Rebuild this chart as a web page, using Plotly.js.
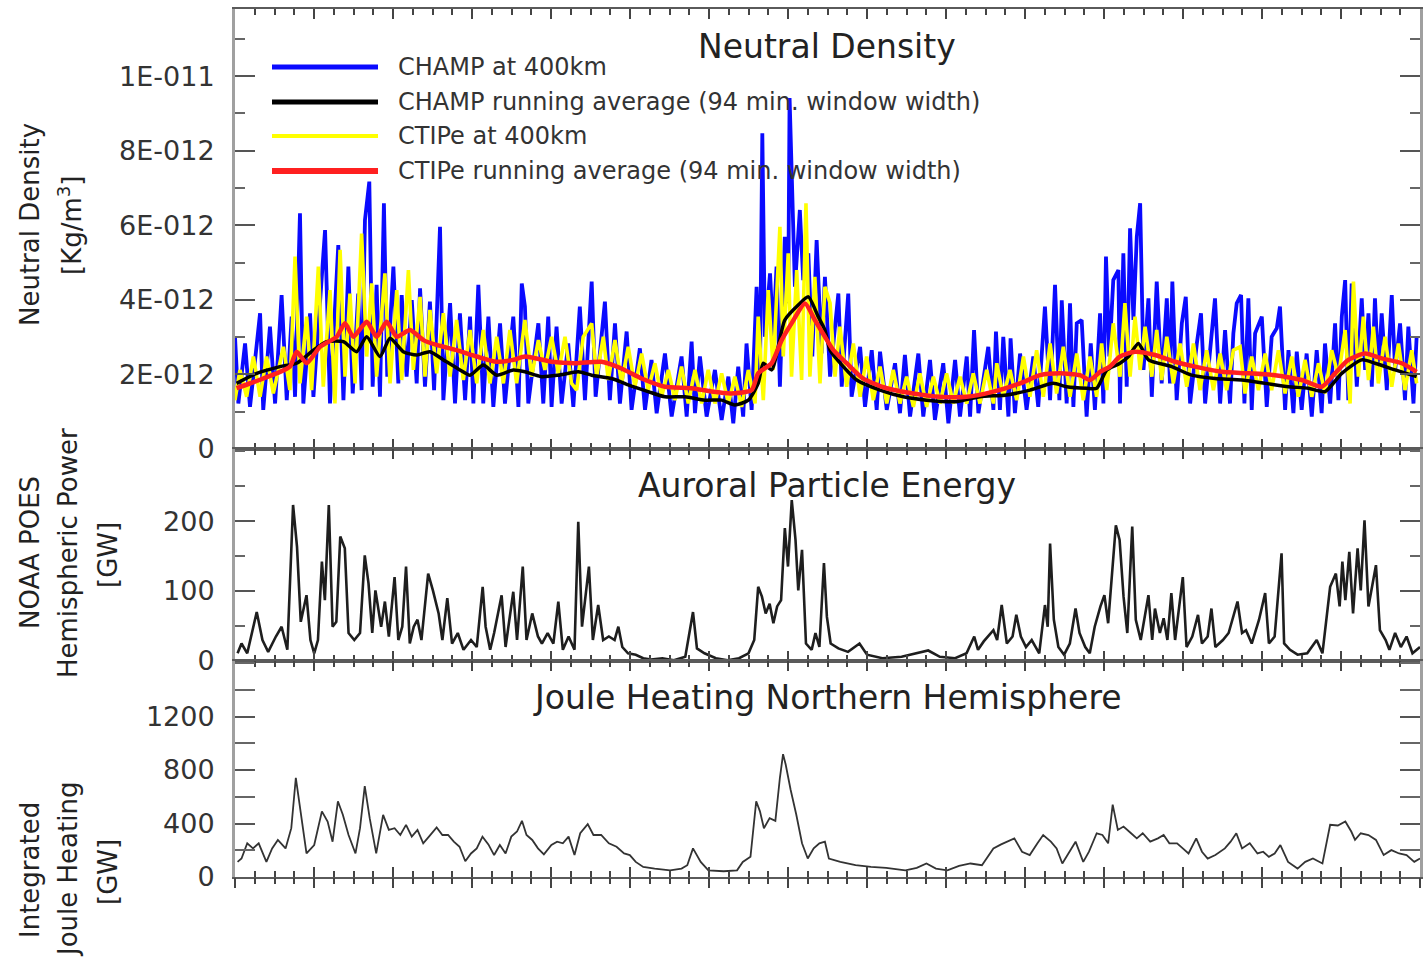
<!DOCTYPE html>
<html>
<head>
<meta charset="utf-8">
<script src="https://cdn.plot.ly/plotly-3.0.1.min.js"></script>
<style>html,body{margin:0;padding:0;background:#fff;}#chart{width:1425px;height:965px;}</style>
</head>
<body>
<div id="chart"></div>
<script>
// ---------- DATA (x = days since start of interval) ----------
const champX = [0.00,0.17,0.51,0.76,1.27,1.43,1.77,2.03,2.36,2.62,2.87,3.04,3.29,3.46,3.80,3.97,4.56,4.81,5.23,5.49,5.74,5.96,6.24,6.41,6.58,6.80,6.97,7.17,7.34,7.54,7.71,8.02,8.27,8.44,8.69,8.95,9.20,9.37,9.62,9.87,10.08,10.38,10.55,10.89,11.14,11.39,11.65,11.90,12.07,12.32,12.57,12.83,13.08,13.42,13.67,14.09,14.35,14.52,
14.68,14.85,15.36,15.61,15.86,16.03,16.28,16.54,16.87,17.13,17.46,17.72,18.06,18.26,18.73,18.98,19.24,19.49,19.83,20.08,20.50,20.76,21.09,21.35,21.77,22.11,22.61,22.87,23.12,23.29,23.54,23.88,24.30,24.64,24.98,25.23,25.48,25.73,25.90,26.16,26.41,26.58,26.70,26.83,27.09,27.25,27.42,27.59,27.84,28.01,28.08,28.35,28.60,28.77,29.03,29.23,29.45,29.70,29.87,
29.96,30.13,30.55,30.72,31.05,31.22,31.65,31.90,32.24,32.49,32.66,33.00,33.42,33.67,33.92,34.18,34.60,34.85,35.19,35.44,35.86,36.12,36.46,36.71,37.05,37.22,37.42,37.64,38.14,38.40,38.53,38.73,38.90,39.16,39.27,39.49,39.75,40.08,40.42,40.67,41.01,41.27,41.52,41.74,41.86,42.11,42.28,42.45,42.62,42.87,43.12,43.33,43.54,43.80,43.97,44.10,44.27,44.47,44.73,
44.81,44.98,45.15,45.32,45.49,45.66,45.83,46.00,46.25,46.42,46.67,46.92,47.18,47.34,47.46,47.68,47.94,48.14,48.36,48.70,48.91,49.12,49.45,49.62,49.88,50.13,50.38,50.55,50.72,50.94,51.11,51.31,51.48,51.65,51.99,52.24,52.49,52.75,52.91,53.17,53.34,53.59,53.76,54.01,54.26,54.52,54.77,55.02,55.19,55.45,55.70,55.87,56.04,56.21,56.37,56.54,56.80,57.05,57.22,57.39,57.56,57.72,57.89,58.06,58.32,58.57,58.74,58.99,59.24,59.41,59.67,59.83];
const champDensity = [3.01e-12,1.22e-12,2.83e-12,1.13e-12,3.64e-12,1.05e-12,3.28e-12,1.22e-12,4.13e-12,1.31e-12,3.55e-12,1.40e-12,6.32e-12,1.22e-12,3.64e-12,1.40e-12,5.87e-12,1.22e-12,5.47e-12,1.31e-12,4.89e-12,1.49e-12,4.17e-12,1.58e-12,6.14e-12,7.17e-12,1.67e-12,4.40e-12,1.40e-12,6.59e-12,1.94e-12,4.89e-12,1.76e-12,4.13e-12,1.94e-12,3.99e-12,1.76e-12,4.31e-12,1.67e-12,3.95e-12,1.58e-12,5.96e-12,1.31e-12,3.91e-12,1.22e-12,3.64e-12,1.31e-12,3.55e-12,1.22e-12,4.40e-12,1.22e-12,3.55e-12,1.13e-12,3.37e-12,1.22e-12,3.55e-12,1.13e-12,4.44e-12,
3.82e-12,1.22e-12,3.37e-12,1.22e-12,3.55e-12,1.13e-12,3.28e-12,1.22e-12,2.83e-12,1.13e-12,3.82e-12,1.31e-12,4.49e-12,1.40e-12,3.95e-12,1.31e-12,3.37e-12,1.22e-12,3.15e-12,1.05e-12,2.70e-12,1.05e-12,2.39e-12,0.96e-12,2.56e-12,0.87e-12,2.48e-12,0.87e-12,2.88e-12,0.96e-12,2.48e-12,0.87e-12,2.12e-12,0.78e-12,1.94e-12,0.69e-12,2.21e-12,0.87e-12,2.83e-12,1.05e-12,4.35e-12,1.94e-12,8.47e-12,3.01e-12,4.71e-12,3.01e-12,4.89e-12,1.67e-12,5.69e-12,3.91e-12,9.41e-12,4.35e-12,6.41e-12,4.53e-12,5.25e-12,2.48e-12,5.60e-12,2.56e-12,4.62e-12,
3.73e-12,1.94e-12,4.17e-12,1.67e-12,4.17e-12,1.40e-12,2.74e-12,1.13e-12,2.65e-12,1.05e-12,2.61e-12,1.05e-12,2.30e-12,0.96e-12,2.52e-12,0.87e-12,2.56e-12,0.87e-12,2.39e-12,0.78e-12,2.30e-12,0.69e-12,2.39e-12,0.87e-12,2.48e-12,0.87e-12,3.19e-12,0.96e-12,2.74e-12,1.05e-12,3.15e-12,1.05e-12,3.01e-12,0.87e-12,2.97e-12,0.96e-12,2.56e-12,1.05e-12,2.48e-12,1.13e-12,3.82e-12,1.31e-12,4.40e-12,1.31e-12,3.99e-12,1.22e-12,3.91e-12,1.13e-12,3.37e-12,3.46e-12,0.87e-12,2.83e-12,1.05e-12,3.64e-12,1.22e-12,5.16e-12,2.48e-12,4.53e-12,4.80e-12,
1.22e-12,5.25e-12,1.67e-12,5.92e-12,3.46e-12,5.69e-12,6.59e-12,2.12e-12,4.04e-12,1.40e-12,4.49e-12,1.76e-12,4.04e-12,1.76e-12,4.49e-12,1.31e-12,3.37e-12,4.08e-12,1.22e-12,2.83e-12,3.64e-12,1.22e-12,3.24e-12,4.04e-12,1.22e-12,3.19e-12,1.22e-12,3.10e-12,3.91e-12,4.13e-12,1.22e-12,4.04e-12,1.05e-12,3.10e-12,3.55e-12,1.13e-12,3.01e-12,3.24e-12,3.82e-12,1.05e-12,2.65e-12,0.96e-12,2.61e-12,1.05e-12,2.56e-12,0.87e-12,2.65e-12,0.96e-12,2.83e-12,1.22e-12,3.37e-12,1.31e-12,3.55e-12,4.53e-12,1.31e-12,4.44e-12,1.67e-12,4.04e-12,2.12e-12,3.64e-12,1.67e-12,4.04e-12,2.03e-12,3.64e-12,1.58e-12,4.13e-12,2.12e-12,3.37e-12,1.31e-12,3.28e-12,1.22e-12,3.01e-12];

const champAvgX = [0.08,1.10,2.28,3.12,3.97,4.64,5.49,6.16,6.67,7.34,7.85,8.52,9.20,9.87,10.55,11.39,11.90,12.57,13.25,14.09,
14.68,15.52,16.37,17.38,18.06,19.07,19.91,20.92,21.77,22.78,23.79,24.64,25.31,25.99,26.49,26.75,27.17,27.84,28.52,29.03,29.53,29.87,
30.13,30.80,31.48,32.66,33.84,35.02,36.54,37.72,39.07,40.25,41.43,42.11,43.12,43.63,44.14,44.81,
45.24,45.74,46.25,47.43,48.44,49.62,50.97,52.16,53.34,54.35,55.19,56.04,57.05,57.72,58.74,59.83];
const champAvgDensity = [1.76e-12,2.03e-12,2.21e-12,2.30e-12,2.65e-12,2.88e-12,2.88e-12,2.61e-12,3.01e-12,2.48e-12,2.97e-12,2.61e-12,2.52e-12,2.61e-12,2.39e-12,2.12e-12,1.98e-12,2.25e-12,1.98e-12,2.12e-12,
2.07e-12,1.94e-12,1.98e-12,2.07e-12,1.98e-12,1.89e-12,1.72e-12,1.54e-12,1.40e-12,1.40e-12,1.31e-12,1.31e-12,1.18e-12,1.31e-12,1.76e-12,2.30e-12,2.12e-12,3.46e-12,3.86e-12,4.08e-12,3.55e-12,3.19e-12,
2.65e-12,2.21e-12,1.85e-12,1.58e-12,1.40e-12,1.31e-12,1.27e-12,1.40e-12,1.45e-12,1.58e-12,1.76e-12,1.67e-12,1.63e-12,1.63e-12,2.12e-12,2.30e-12,
2.48e-12,2.83e-12,2.39e-12,2.21e-12,1.98e-12,1.89e-12,1.85e-12,1.76e-12,1.67e-12,1.63e-12,1.54e-12,2.03e-12,2.39e-12,2.30e-12,2.12e-12,1.94e-12];

const ctipeX = [0.00,0.25,0.59,0.93,1.27,1.60,1.94,2.45,2.78,3.04,3.29,3.63,3.88,4.22,4.47,4.81,5.06,5.32,5.57,5.82,6.08,6.41,6.67,6.92,7.17,7.59,7.85,8.19,8.44,8.78,9.03,9.37,9.62,9.87,10.21,10.55,10.89,11.22,11.56,11.90,12.24,12.57,12.91,13.25,13.59,13.92,14.26,14.68,
15.02,15.36,15.69,16.03,16.37,16.71,17.04,17.30,17.63,18.06,18.31,18.65,18.90,19.24,19.57,19.91,20.25,20.59,20.92,21.26,21.60,21.94,22.28,22.61,22.95,23.29,23.63,23.96,24.30,24.64,24.98,25.31,25.65,25.99,26.33,26.49,26.75,27.00,27.25,27.59,27.76,28.01,28.18,28.44,28.69,28.91,29.11,29.36,29.62,29.87,
30.13,30.38,30.63,30.97,31.31,31.65,31.98,32.32,32.66,33.00,33.33,33.67,34.01,34.35,34.68,35.02,35.36,35.70,36.03,36.37,36.71,37.05,37.38,37.72,38.06,38.40,38.57,38.90,39.24,39.58,39.92,40.25,40.59,40.93,41.27,41.60,41.94,42.28,42.62,42.95,43.29,43.63,43.88,44.14,44.47,44.81,
45.06,45.32,45.57,45.83,46.08,46.42,46.67,46.92,47.18,47.51,47.85,48.19,48.53,48.86,49.20,49.54,49.88,50.21,50.55,50.89,51.14,51.48,51.82,52.16,52.49,52.83,53.17,53.51,53.84,54.18,54.52,54.86,55.19,55.53,55.87,56.21,56.46,56.63,56.88,57.13,57.39,57.64,57.89,58.23,58.57,58.91,59.24,59.58,59.83];
const ctipeDensity = [1.31e-12,2.12e-12,1.40e-12,2.48e-12,1.40e-12,2.48e-12,1.49e-12,2.74e-12,1.58e-12,5.16e-12,1.76e-12,3.55e-12,1.58e-12,4.89e-12,1.67e-12,4.26e-12,1.22e-12,5.34e-12,1.94e-12,4.17e-12,1.76e-12,5.78e-12,2.48e-12,4.44e-12,1.94e-12,4.71e-12,1.76e-12,4.26e-12,1.85e-12,4.80e-12,2.12e-12,4.08e-12,1.94e-12,3.73e-12,2.03e-12,3.64e-12,1.94e-12,3.46e-12,1.85e-12,3.19e-12,1.76e-12,3.19e-12,1.76e-12,3.01e-12,1.76e-12,3.19e-12,1.76e-12,3.46e-12,
1.94e-12,2.92e-12,2.12e-12,3.01e-12,2.03e-12,3.01e-12,1.76e-12,1.58e-12,3.01e-12,3.37e-12,1.94e-12,3.01e-12,1.85e-12,2.92e-12,1.76e-12,2.74e-12,1.67e-12,2.56e-12,1.58e-12,2.30e-12,1.40e-12,2.12e-12,1.31e-12,2.21e-12,1.22e-12,2.12e-12,1.22e-12,2.12e-12,1.22e-12,2.03e-12,1.22e-12,1.94e-12,1.13e-12,2.12e-12,1.22e-12,3.55e-12,1.31e-12,4.26e-12,2.12e-12,5.96e-12,2.48e-12,5.25e-12,1.94e-12,4.80e-12,1.85e-12,6.59e-12,1.94e-12,4.62e-12,1.76e-12,4.35e-12,
3.91e-12,1.94e-12,3.28e-12,1.67e-12,2.83e-12,1.40e-12,2.48e-12,1.31e-12,2.21e-12,1.22e-12,2.12e-12,1.22e-12,1.94e-12,1.13e-12,2.03e-12,1.13e-12,1.94e-12,1.22e-12,2.03e-12,1.22e-12,1.94e-12,1.22e-12,2.03e-12,1.22e-12,2.12e-12,1.22e-12,2.30e-12,1.40e-12,2.12e-12,1.31e-12,2.48e-12,1.40e-12,2.65e-12,1.40e-12,2.83e-12,1.49e-12,2.74e-12,1.40e-12,2.56e-12,1.31e-12,2.48e-12,1.40e-12,2.83e-12,1.58e-12,3.37e-12,1.94e-12,
3.91e-12,1.94e-12,3.55e-12,2.12e-12,3.28e-12,1.94e-12,3.19e-12,1.85e-12,3.01e-12,1.76e-12,2.83e-12,1.67e-12,2.83e-12,1.58e-12,2.65e-12,1.58e-12,2.56e-12,1.58e-12,2.65e-12,2.74e-12,1.49e-12,2.48e-12,1.58e-12,2.56e-12,1.58e-12,2.65e-12,1.49e-12,2.48e-12,1.40e-12,2.39e-12,1.40e-12,2.30e-12,1.49e-12,2.65e-12,1.94e-12,3.19e-12,1.22e-12,4.49e-12,1.94e-12,3.55e-12,1.85e-12,3.28e-12,1.76e-12,3.01e-12,1.67e-12,2.83e-12,1.58e-12,2.65e-12,1.76e-12];

const ctipeAvgX = [0.08,1.43,2.78,3.12,3.63,4.30,5.15,5.57,5.99,6.67,7.17,7.68,8.19,8.86,9.54,10.21,11.22,12.24,13.25,14.09,
14.68,16.03,17.21,18.56,19.57,20.59,21.77,23.12,24.13,25.14,26.16,26.49,27.17,27.68,28.18,28.86,29.36,29.87,
30.30,30.97,31.81,33.00,34.35,35.70,37.05,38.40,39.75,40.76,41.77,42.78,43.29,43.80,44.30,44.81,
45.57,46.59,47.60,48.61,49.96,51.31,52.66,54.01,55.02,55.70,56.37,57.22,58.06,59.08,59.83];
const ctipeAvgDensity = [1.63e-12,1.89e-12,2.21e-12,2.61e-12,2.30e-12,2.74e-12,3.01e-12,3.37e-12,3.01e-12,3.41e-12,3.01e-12,3.41e-12,3.01e-12,3.19e-12,2.92e-12,2.79e-12,2.65e-12,2.48e-12,2.34e-12,2.39e-12,
2.48e-12,2.34e-12,2.30e-12,2.34e-12,2.16e-12,1.89e-12,1.67e-12,1.63e-12,1.54e-12,1.49e-12,1.58e-12,2.03e-12,2.30e-12,2.92e-12,3.37e-12,3.90e-12,3.46e-12,3.01e-12,
2.65e-12,2.30e-12,1.89e-12,1.63e-12,1.49e-12,1.40e-12,1.40e-12,1.54e-12,1.76e-12,1.98e-12,2.03e-12,1.98e-12,1.85e-12,2.07e-12,2.21e-12,2.48e-12,
2.61e-12,2.52e-12,2.34e-12,2.21e-12,2.07e-12,2.03e-12,1.98e-12,1.85e-12,1.67e-12,2.03e-12,2.39e-12,2.56e-12,2.43e-12,2.30e-12,2.07e-12];

const hpX = [0.13,0.33,0.62,1.10,1.39,1.68,2.07,2.36,2.65,2.94,3.14,3.33,3.62,3.82,4.01,4.20,4.40,4.55,4.75,4.94,5.13,5.33,5.56,5.75,6.04,6.33,6.57,6.76,6.95,7.11,7.40,7.59,7.79,8.08,8.27,8.47,8.66,8.85,9.05,9.24,9.44,9.78,10.02,10.31,10.50,10.75,10.99,11.28,11.57,11.95,12.24,12.54,12.69,12.92,13.12,13.50,13.70,14.09,14.28,14.57,14.76,15.05,15.34,15.54,15.83,16.12,16.37,16.60,16.89,17.19,17.38,17.57,17.92,18.12,18.39,18.64,18.93,19.22,19.41,19.61,19.90,20.29,20.67,21.06,21.64,22.22,22.80,23.19,23.39,23.77,24.35,24.94,25.52,26.00,26.29,26.49,26.68,26.87,27.07,27.26,27.45,27.65,27.84,28.00,28.19,28.38,28.52,28.71,28.91,29.20,29.39,29.59,29.82,
29.97,30.16,30.55,31.04,31.62,32.00,32.78,33.75,34.43,35.10,35.69,36.46,37.04,37.43,37.62,37.91,38.40,38.59,38.82,39.08,39.37,39.56,39.79,40.05,40.34,40.72,41.01,41.15,41.27,41.46,41.69,41.98,42.27,42.56,42.76,43.05,43.28,43.53,43.82,44.02,44.21,44.60,44.79,44.99,45.18,45.43,45.61,45.86,46.25,46.44,46.58,46.83,47.02,47.21,47.41,47.60,47.99,48.18,48.47,48.76,48.96,49.25,49.44,49.64,50.02,50.31,50.76,50.99,51.19,51.48,51.85,52.16,52.35,52.64,52.99,53.12,53.42,53.80,54.29,54.77,55.06,55.45,55.74,55.93,56.07,56.22,56.42,56.61,56.84,57.00,57.19,57.39,57.77,57.97,58.26,58.45,58.74,59.03,59.32,59.62,60.00];
const hpPower = [11,25,11,70,30,13,35,49,16,223,163,56,94,30,11,30,142,87,223,49,56,178,161,40,30,40,151,111,40,101,49,85,35,120,30,49,135,25,49,59,30,125,101,68,30,90,25,40,16,30,20,106,49,16,40,94,20,99,30,135,30,68,35,25,40,25,85,16,35,16,199,49,135,30,80,30,35,30,49,20,11,9,4,2,4,1,6,70,18,11,4,1,4,11,30,106,92,68,82,54,78,87,190,135,230,173,101,159,25,16,40,20,140,
63,25,18,13,25,9,4,6,11,15,6,4,11,35,16,28,44,30,80,25,35,66,35,20,30,11,80,49,168,59,20,9,25,75,40,20,11,49,78,94,54,194,173,92,40,192,59,30,94,30,75,40,61,30,97,30,120,20,35,66,25,35,75,20,30,40,85,40,44,25,59,97,25,35,154,25,16,9,11,30,11,106,125,78,142,87,156,68,161,101,201,78,137,44,30,16,40,20,35,11,20];

const jouleX = [0.13,0.33,0.62,0.91,1.20,1.59,1.88,2.17,2.56,2.85,3.08,3.33,3.62,4.01,4.40,4.69,4.94,5.21,5.46,5.75,6.10,6.33,6.57,6.82,7.15,7.50,7.79,8.08,8.37,8.66,8.95,9.24,9.53,9.82,10.21,10.50,10.79,11.08,11.37,11.66,11.95,12.24,12.53,12.83,13.12,13.41,13.70,13.99,14.28,14.53,14.76,15.05,15.34,15.64,16.02,16.31,16.60,16.89,17.19,17.48,17.86,18.15,18.54,18.93,19.32,19.70,19.99,20.29,20.67,21.25,22.03,22.61,22.90,23.19,23.58,23.97,24.74,25.42,25.71,26.10,26.39,26.58,26.78,27.07,27.36,27.59,27.75,27.88,28.13,28.42,28.71,29.00,29.30,29.59,
29.87,30.07,30.65,31.42,32.20,32.97,33.94,34.52,35.01,35.49,36.07,36.66,37.24,37.82,38.40,38.79,39.46,39.85,40.24,40.63,40.92,41.31,41.60,41.89,42.27,42.56,42.95,43.24,43.63,43.92,44.21,44.44,44.70,44.99,45.37,45.66,45.96,46.34,46.73,47.02,47.31,47.70,47.99,48.28,48.67,48.96,49.25,49.64,50.12,50.41,50.70,50.99,51.38,51.77,52.06,52.35,52.64,52.93,53.32,53.80,54.19,54.58,55.06,55.26,55.45,55.84,56.22,56.52,56.71,57.00,57.39,57.77,58.16,58.55,58.94,59.32,59.71,60.00];
const joulePower = [113,138,252,214,252,113,214,277,214,365,742,491,176,239,491,415,264,566,465,314,176,365,679,440,176,465,352,365,314,390,302,352,252,302,370,314,314,264,226,118,176,214,302,244,164,239,176,302,340,420,314,277,214,169,239,264,252,302,164,327,395,314,314,252,226,176,164,113,75,63,50,63,88,214,113,50,43,50,113,151,566,491,365,440,420,742,918,843,654,465,252,138,214,252,
264,138,113,88,75,68,50,68,101,63,50,83,101,88,214,244,289,189,164,252,314,264,214,101,189,264,113,189,327,314,252,541,352,377,327,289,327,264,289,314,252,252,214,176,289,189,138,164,214,264,327,214,252,176,189,151,176,239,113,63,113,138,101,239,390,385,415,340,277,327,314,277,164,201,176,164,113,138];

const densityTickVals = [0, 2e-12, 4e-12, 6e-12, 8e-12, 1e-11];
const densityTickText = ['0', '2E-012', '4E-012', '6E-012', '8E-012', '1E-011'];
const hpTickVals = [0, 100, 200];
const jouleTickVals = [0, 400, 800, 1200];
const seriesNames = ['CHAMP at 400km', 'CHAMP running average (94 min. window width)', 'CTIPe at 400km', 'CTIPe running average (94 min. window width)'];
const seriesColors = ['#0a0aff', '#000000', '#ffff00', '#ff2020'];
const panelTitles = ['Neutral Density', 'Auroral Particle Energy', 'Joule Heating Northern Hemisphere'];

// ---------- STYLE ----------
const FONT = '"DejaVu Sans", Verdana, sans-serif';
const traces = [
  {x: champX, y: champDensity, name: seriesNames[0], type: 'scatter', mode: 'lines', line: {color: seriesColors[0], width: 3.8}, xaxis: 'x', yaxis: 'y'},
  {x: ctipeX, y: ctipeDensity, name: seriesNames[2], type: 'scatter', mode: 'lines', line: {color: seriesColors[2], width: 3.6}, xaxis: 'x', yaxis: 'y'},
  {x: champAvgX, y: champAvgDensity, name: seriesNames[1], type: 'scatter', mode: 'lines', line: {color: seriesColors[1], width: 3.5, shape: 'spline', smoothing: 0.6}, xaxis: 'x', yaxis: 'y'},
  {x: ctipeAvgX, y: ctipeAvgDensity, name: seriesNames[3], type: 'scatter', mode: 'lines', line: {color: seriesColors[3], width: 4.5, shape: 'spline', smoothing: 0.6}, xaxis: 'x', yaxis: 'y'},
  {x: hpX, y: hpPower, name: 'NOAA POES Hemispheric Power', type: 'scatter', mode: 'lines', line: {color: '#1e1e1e', width: 2.6}, xaxis: 'x2', yaxis: 'y2'},
  {x: jouleX, y: joulePower, name: 'Integrated Joule Heating', type: 'scatter', mode: 'lines', line: {color: '#333', width: 1.8}, xaxis: 'x3', yaxis: 'y3'},
  {x: [], y: [], type: 'scatter', mode: 'lines', xaxis: 'x4', yaxis: 'y3', showlegend: false, hoverinfo: 'skip'}
];

const xBase = {
  range: [0, 60], showticklabels: false, ticks: 'inside', ticklen: 10, tickwidth: 2, tickcolor: '#444',
  tickmode: 'linear', tick0: 0, dtick: 4,
  minor: {tickmode: 'linear', tick0: 0, dtick: 1, ticks: 'inside', ticklen: 6, tickwidth: 2, tickcolor: '#444'},
  showline: true, linecolor: '#5a5a5a', linewidth: 2, mirror: 'allticks', showgrid: false, zeroline: false, fixedrange: true
};
const yBase = {
  ticks: 'inside', ticklen: 20, tickwidth: 2, tickcolor: '#555',
  showline: true, linecolor: '#a0a0a0', linewidth: 3, mirror: 'allticks', showgrid: false, zeroline: false,
  tickfont: {family: FONT, size: 27, color: '#333'}, ticklabelstandoff: 12, fixedrange: true
};
const yMinor = {tickmode: 'linear', tick0: 0, ticks: 'inside', ticklen: 10, tickwidth: 2, tickcolor: '#666'};

const plotTop = 9, plotBottom = 877, plotH = plotBottom - plotTop;
const py = p => (plotBottom - p) / plotH;
const pxShift = p => p - 235;

const layout = {
  width: 1425, height: 965,
  margin: {l: 235, r: 5, t: plotTop, b: 965 - plotBottom},
  paper_bgcolor: '#ffffff', plot_bgcolor: '#ffffff',
  showlegend: false,
  font: {family: FONT, color: '#222'},
  xaxis: Object.assign({}, xBase, {anchor: 'y'}),
  xaxis2: Object.assign({}, xBase, {anchor: 'y2', matches: 'x'}),
  xaxis3: Object.assign({}, xBase, {anchor: 'y3', matches: 'x'}),
  xaxis4: Object.assign({}, xBase, {anchor: 'y3', overlaying: 'x3', side: 'bottom', ticks: 'outside', showline: false, mirror: false,
    minor: {tickmode: 'linear', tick0: 0, dtick: 1, ticks: 'outside', ticklen: 6, tickwidth: 2, tickcolor: '#444'}}),
  yaxis: Object.assign({}, yBase, {domain: [py(449), 1], range: [0, 11.8e-12], tickmode: 'array', tickvals: densityTickVals, ticktext: densityTickText,
    minor: Object.assign({dtick: 1e-12}, yMinor)}),
  yaxis2: Object.assign({}, yBase, {domain: [py(661), py(449)], range: [0, 303], tickmode: 'array', tickvals: hpTickVals,
    minor: Object.assign({dtick: 50}, yMinor)}),
  yaxis3: Object.assign({}, yBase, {domain: [0, py(661)], range: [0, 1615], tickmode: 'array', tickvals: jouleTickVals,
    minor: Object.assign({dtick: 200}, yMinor)}),
  shapes: [],
  annotations: []
};

// panel titles
[[panelTitles[0], 47], [panelTitles[1], 486], [panelTitles[2], 697]].forEach(([t, y]) => {
  layout.annotations.push({text: t, xref: 'paper', yref: 'paper', x: (827 - 235) / 1185, y: py(y), xanchor: 'center', yanchor: 'middle', showarrow: false,
    font: {family: FONT, size: 33, color: '#222'}});
});

// y-axis titles (rotated lines)
const yTitleLines = [
  ['Neutral Density', 30, 225], ['[Kg/m<sup>3</sup>]', 70, 225],
  ['NOAA POES', 30, 553], ['Hemispheric Power', 68, 553], ['[GW]', 108, 555],
  ['Integrated', 30, 870], ['Joule Heating', 68, 870], ['[GW]', 108, 872]
];
yTitleLines.forEach(([t, x, y]) => {
  layout.annotations.push({text: t, xref: 'paper', yref: 'paper', x: 0, xshift: pxShift(x), y: py(y), xanchor: 'center', yanchor: 'middle',
    textangle: -90, showarrow: false, font: {family: FONT, size: 26, color: '#222'}});
});

// legend (drawn as sample lines + labels)
const legendRows = [67, 102, 136, 171];
const legendWidths = [5, 5, 4, 6];
legendRows.forEach((y, i) => {
  layout.shapes.push({type: 'line', xref: 'paper', yref: 'paper', x0: (272 - 235) / 1185, x1: (378 - 235) / 1185, y0: py(y), y1: py(y),
    line: {color: seriesColors[i], width: legendWidths[i]}});
  layout.annotations.push({text: seriesNames[i], xref: 'paper', yref: 'paper', x: (396 - 235) / 1185, y: py(y), xanchor: 'left', yanchor: 'middle',
    showarrow: false, font: {family: FONT, size: 24, color: '#333'}});
});

Plotly.newPlot('chart', traces, layout, {displayModeBar: false, staticPlot: true});
</script>
</body>
</html>
